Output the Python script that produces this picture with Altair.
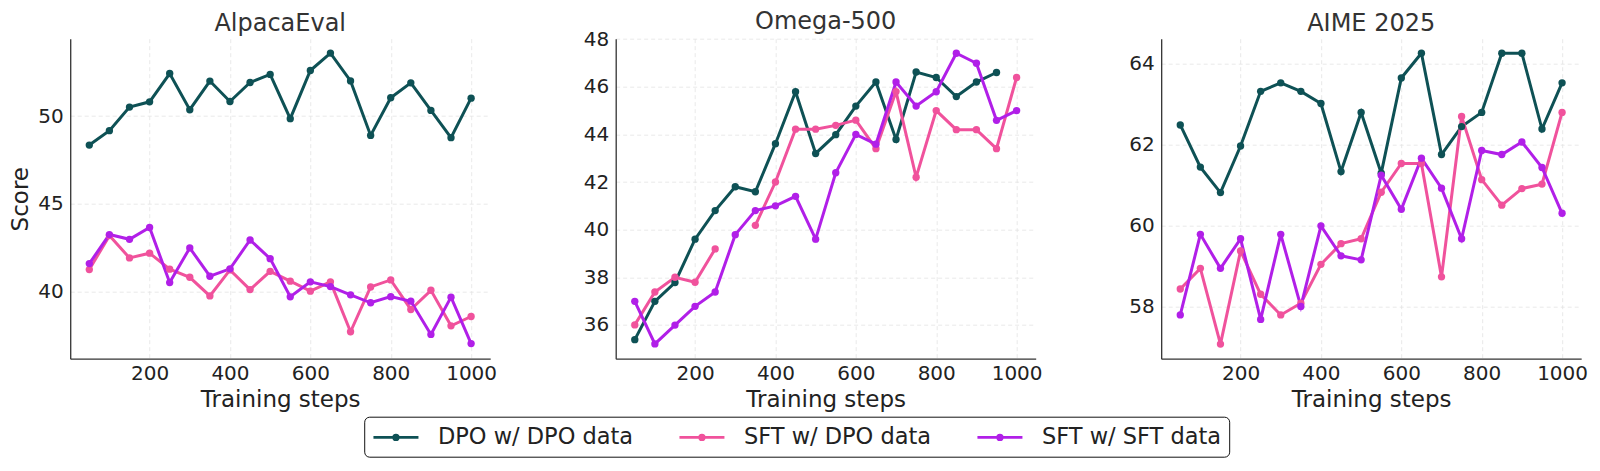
import altair as alt
import pandas as pd

steps = [50, 100, 150, 200, 250, 300, 350, 400, 450, 500,
         550, 600, 650, 700, 750, 800, 850, 900, 950, 1000]

series_names = ["DPO w/ DPO data", "SFT w/ DPO data", "SFT w/ SFT data"]
series_colors = ["#0E5155", "#F0529C", "#B11FE8"]

benchmarks = ["AlpacaEval", "Omega-500", "AIME 2025"]

alpaca_dpo_dpo = [48.35, 49.17, 50.51, 50.81, 52.42, 50.36, 51.99, 50.83, 51.91, 52.37,
                  49.85, 52.59, 53.58, 52.0, 48.9, 51.04, 51.89, 50.32, 48.77, 51.02]
alpaca_sft_dpo = [41.27, 43.2, 41.93, 42.2, 41.29, 40.83, 39.77, 41.25, 40.13, 41.17,
                  40.61, 40.04, 40.57, 37.73, 40.28, 40.68, 39.0, 40.09, 38.07, 38.6]
alpaca_sft_sft = [41.61, 43.26, 42.99, 43.66, 40.53, 42.5, 40.89, 41.31, 42.95, 41.89,
                  39.72, 40.57, 40.3, 39.83, 39.38, 39.73, 39.47, 37.58, 39.7, 37.06]

omega_dpo_dpo = [35.38, 36.99, 37.78, 39.6, 40.8, 41.8, 41.59, 43.61, 45.79, 43.2,
                 43.99, 45.19, 46.2, 43.79, 46.62, 46.39, 45.59, 46.2, 46.6, None]
omega_sft_dpo = [36.0, 37.38, 38.0, 37.79, 39.19, None, 40.18, 42.0, 44.22, 44.22,
                 44.38, 44.6, 43.4, 45.8, 42.2, 45.0, 44.2, 44.2, 43.4, 46.39]
omega_sft_sft = [36.99, 35.2, 35.99, 36.78, 37.38, 39.79, 40.8, 41.0, 41.4, 39.6,
                 42.39, 44.0, 43.59, 46.2, 45.19, 45.79, 47.41, 46.99, 44.59, 45.0]

aime_dpo_dpo = [62.49, 61.45, 60.82, 61.97, 63.32, 63.53, 63.32, 63.02, 61.34, 62.8,
                61.3, 63.65, 64.26, 61.76, 62.45, 62.8, 64.26, 64.26, 62.39, 63.53]
aime_sft_dpo = [58.44, 58.95, 57.08, 59.38, 58.31, 57.8, 58.09, 59.05, 59.56, 59.68,
                60.83, 61.54, 61.54, 58.74, 62.7, 61.14, 60.51, 60.92, 61.03, 62.8]
aime_sft_sft = [57.8, 59.79, 58.95, 59.68, 57.69, 59.79, 58.01, 60.0, 59.26, 59.16,
                61.25, 60.41, 61.67, 60.93, 59.68, 61.86, 61.76, 62.07, 61.44, 60.31]

x_ticks = [200, 400, 600, 800, 1000]
alpaca_y_ticks = [40, 45, 50]
omega_y_ticks = [36, 38, 40, 42, 44, 46, 48]
aime_y_ticks = [58, 60, 62, 64]

x_domain = [2.5, 1047.5]
alpaca_y_domain = [36.2, 54.4]
omega_y_domain = [34.58, 48.02]
aime_y_domain = [56.72, 64.62]

data_by_bench = {
    "AlpacaEval": [alpaca_dpo_dpo, alpaca_sft_dpo, alpaca_sft_sft],
    "Omega-500": [omega_dpo_dpo, omega_sft_dpo, omega_sft_sft],
    "AIME 2025": [aime_dpo_dpo, aime_sft_dpo, aime_sft_sft],
}

rows = []
for bench, lists in data_by_bench.items():
    for name, vals in zip(series_names, lists):
        for s, v in zip(steps, vals):
            rows.append({"bench": bench, "series": name, "step": s, "score": v})
df = pd.DataFrame(rows)

FONT = "DejaVu Sans"

color_scale = alt.Scale(domain=series_names, range=series_colors)

legend = alt.Legend(
    orient="none",
    legendX=294,
    legendY=378,
    direction="horizontal",
    title=None,
    symbolType="M-2,0L2,0M-0.2,0A0.2,0.2,0,1,1,0.2,0A0.2,0.2,0,1,1,-0.2,0Z",
    symbolSize=506.25,
    symbolOffset=11.25,
    symbolStrokeWidth=2.8,
    labelFontSize=22.5,
    labelFont=FONT,
    labelColor="#222222",
    labelOffset=29,
    labelLimit=400,
    columnPadding=40,
    padding=7.5,
    strokeColor="#111111",
    cornerRadius=5,
    fillColor="white",
)


def panel(bench, y_domain, y_ticks, y_title, title_offset):
    sub = df[df["bench"] == bench]
    base = alt.Chart(sub)
    x_enc = alt.X(
        "step:Q",
        scale=alt.Scale(domain=x_domain, nice=False, zero=False),
        axis=alt.Axis(values=x_ticks, title="Training steps", format="d"),
    )
    y_axis_kwargs = dict(values=y_ticks, format="d")
    y_axis_kwargs["title"] = y_title if y_title else None
    y_enc = alt.Y(
        "score:Q",
        scale=alt.Scale(domain=y_domain, nice=False, zero=False),
        axis=alt.Axis(**y_axis_kwargs),
    )
    lines = base.mark_line(strokeWidth=3, invalid="break-paths-show-domains").encode(
        x=x_enc,
        y=y_enc,
        color=alt.Color("series:N", scale=color_scale, legend=legend),
        detail="series:N",
    )
    points = base.transform_filter("isValid(datum.score)").mark_circle(size=54, opacity=1).encode(
        x=x_enc,
        y=y_enc,
        color=alt.Color("series:N", scale=color_scale, legend=legend),
    )
    return alt.layer(lines, points).properties(
        width=420,
        height=320,
        title=alt.TitleParams(
            bench, fontSize=24, font=FONT, fontWeight="normal", color="#333333",
            offset=title_offset, frame="group",
        ),
    )


p1 = panel("AlpacaEval", alpaca_y_domain, alpaca_y_ticks, "Score", 3.0)
p2 = panel("Omega-500", omega_y_domain, omega_y_ticks, None, -5.0)
p3 = panel("AIME 2025", aime_y_domain, aime_y_ticks, None, 3.0)

chart = (
    alt.hconcat(p1, p2, p3, spacing=85.5)
    .resolve_scale(x="independent", y="independent", color="shared")
    .properties(padding={"left": 1.2, "top": 1.7, "right": 0, "bottom": 0})
    .configure_view(stroke=None)
    .configure_axis(
        labelFont=FONT,
        titleFont=FONT,
        labelFontSize=20,
        titleFontSize=23,
        titleFontWeight="normal",
        labelColor="#222222",
        titleColor="#222222",
        domainColor="#333333",
        domainWidth=1.3,
        ticks=False,
        gridColor="#e3e3e3",
        gridDash=[4, 3],
        gridWidth=0.8,
    )
    .configure_axisX(titlePadding=5, labelPadding=5)
    .configure_axisY(titlePadding=5, labelPadding=7)
)

chart.save("out.html", embed_options={"renderer": "svg", "actions": False})
